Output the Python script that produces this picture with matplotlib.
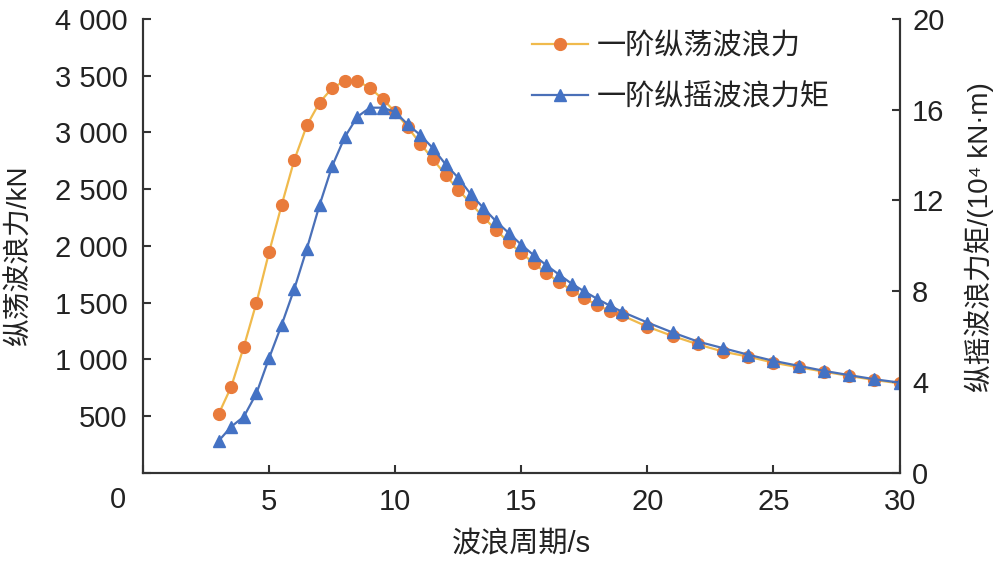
import matplotlib
matplotlib.use("Agg")
import matplotlib.pyplot as plt
from matplotlib.ticker import FixedLocator, FuncFormatter

plt.rcParams['font.family'] = ['Liberation Sans', 'Noto Sans CJK SC', 'DejaVu Sans']
plt.rcParams['font.size'] = 21
plt.rcParams['text.color'] = '#222222'
plt.rcParams['axes.labelcolor'] = '#222222'
plt.rcParams['xtick.color'] = '#333333'
plt.rcParams['ytick.color'] = '#333333'
plt.rcParams['xtick.labelcolor'] = '#222222'
plt.rcParams['ytick.labelcolor'] = '#222222'

# wave period (s)
period = [3.0, 3.5, 4.0, 4.5, 5.0, 5.5, 6.0, 6.5, 7.0, 7.5, 8.0, 8.5, 9.0, 9.5,
          10.0, 10.5, 11.0, 11.5, 12.0, 12.5, 13.0, 13.5, 14.0, 14.5, 15.0, 15.5,
          16.0, 16.5, 17.0, 17.5, 18.0, 18.5, 19.0,
          20, 21, 22, 23, 24, 25, 26, 27, 28, 29, 30]

# first-order surge wave force (kN)
surge_force = [517, 758, 1111, 1499, 1943, 2361, 2757, 3063, 3263, 3390, 3454, 3454, 3392, 3295,
               3180, 3046, 2900, 2763, 2625, 2493, 2375, 2252, 2140, 2031, 1938, 1846,
               1758, 1679, 1611, 1538, 1479, 1426, 1386,
               1287, 1205, 1132, 1067, 1023, 970, 929, 891, 853, 817, 788]

# first-order pitch wave moment (10^4 kN*m)
pitch_moment = [1.40, 2.03, 2.47, 3.50, 5.05, 6.52, 8.10, 9.88, 11.79, 13.51, 14.79, 15.69, 16.09, 16.09,
                15.90, 15.35, 14.88, 14.30, 13.59, 13.00, 12.27, 11.67, 11.08, 10.57, 10.05, 9.58,
                9.14, 8.73, 8.33, 7.99, 7.67, 7.37, 7.09,
                6.62, 6.18, 5.78, 5.49, 5.20, 4.93, 4.71, 4.49, 4.30, 4.12, 3.97]

x_ticks = [0, 5, 10, 15, 20, 25, 30]
left_ticks = [0, 500, 1000, 1500, 2000, 2500, 3000, 3500, 4000]
right_ticks = [0, 4, 8, 12, 16, 20]

fig = plt.figure(figsize=(10.04, 5.65), dpi=100)
ax = fig.add_axes([0.1424, 0.1634, 0.7536, 0.8030])
ax2 = ax.twinx()

l1, = ax.plot(period, surge_force, color='#F0BA4C', lw=1.6, marker='o', ms=8.5,
              mfc='#E97B3B', mec='#E97B3B', label='一阶纵荡波浪力')
l2, = ax2.plot(period, pitch_moment, color='#4A70B8', lw=1.6, marker='^', ms=8.5,
               mfc='#4472C4', mec='#4472C4', label='一阶纵摇波浪力矩')

ax.set_xlim(0, 30)
ax.set_ylim(0, 4000)
ax2.set_ylim(0, 20)

ax.xaxis.set_major_locator(FixedLocator(x_ticks))
ax.xaxis.set_major_formatter(FuncFormatter(lambda v, p: '' if v == 0 else f'{v:g}'))
ax.yaxis.set_major_locator(FixedLocator(left_ticks))
ax.yaxis.set_major_formatter(FuncFormatter(
    lambda v, p: '' if v == 0 else f'{int(v):,}'.replace(',', ' ')))
ax2.yaxis.set_major_locator(FixedLocator(right_ticks))

# the "0" under the corner sits a bit left of the axis in the original
ax.annotate('0', xy=(0, 0), xycoords=('data', 'axes fraction'), xytext=(-25, -13),
            textcoords='offset pixels', ha='center', va='top')

for a in (ax, ax2):
    a.spines['top'].set_visible(False)
    for s in a.spines.values():
        s.set_linewidth(1.5)
        s.set_color('#333333')
ax.tick_params(axis='x', direction='in', length=6, width=1.5, pad=11)
ax.tick_params(axis='y', direction='in', length=6, width=1.5, pad=11)
ax2.tick_params(axis='y', direction='in', length=6, width=1.5, pad=9)

ax.set_xlabel('波浪周期/s', va='center')
ax.xaxis.set_label_coords(0.5, -0.159)
ax.set_ylabel('纵荡波浪力/kN', va='center', ha='center', fontsize=20)
ax.yaxis.set_label_coords(-0.1626, 0.478)
ax2.set_ylabel('纵摇波浪力矩/(10⁴ kN·m)', va='center', ha='center', rotation=90,
               fontsize=20)
ax2.yaxis.set_label_coords(1.105, 0.52)

fig.legend(handles=[l1, l2], loc='upper left', bbox_to_anchor=(0.530, 0.943),
           frameon=False, borderpad=0, borderaxespad=0, handlelength=1.9,
           handletextpad=0.3, labelspacing=0.78)

fig.savefig('out.png', dpi=100)
